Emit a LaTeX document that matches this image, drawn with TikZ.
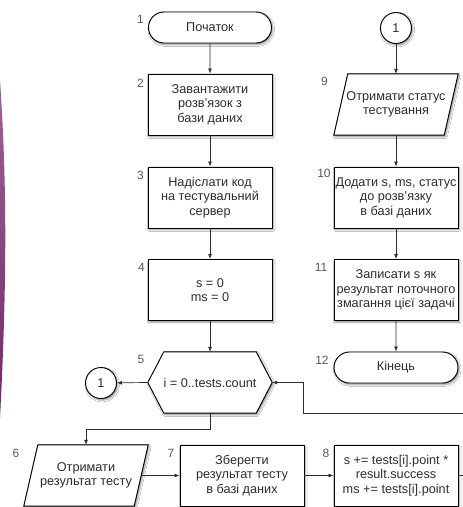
\documentclass[tikz,border=0pt]{standalone}
\usepackage{fontspec}
\setmainfont{Liberation Sans}
\usetikzlibrary{arrows.meta,shapes.misc,shadows.blur,calc,backgrounds}

\definecolor{inkc}{RGB}{45,45,45}
\definecolor{numc}{RGB}{90,90,90}
\definecolor{stripeA}{RGB}{158,100,150}
\definecolor{stripeB}{RGB}{118,48,110}
\definecolor{stripeC}{RGB}{112,40,104}

\tikzset{
  sh/.style={blur shadow={shadow xshift=1.2pt, shadow yshift=-1.6pt,
      shadow blur radius=1.8pt, shadow opacity=45}},
  txt/.style={align=center, text=inkc, inner sep=1pt,
      font=\fontsize{12.7}{14.5}\selectfont},
  proc/.style={txt, draw=black, line width=0.95pt, fill=white, sh,
      minimum width=124pt, minimum height=61pt},
  ghost/.style={txt, minimum width=124pt, minimum height=61pt},
  term/.style={txt, rounded rectangle, draw=black, line width=0.95pt,
      fill=white, sh, minimum width=125pt, minimum height=31pt},
  conn/.style={txt, circle, draw=black, line width=0.95pt, fill=white, sh,
      minimum size=31pt, inner sep=0pt},
  outline/.style={draw=black, line width=0.95pt, fill=white, sh},
  num/.style={text=numc, font=\fontsize{12}{13}\selectfont, inner sep=0pt},
  flow/.style={draw=inkc, line width=0.7pt,
      -{Latex[length=5pt,width=4pt]}},
}

\begin{document}
\begin{tikzpicture}[x=1pt, y=-1pt]
\clip (0,0) rectangle (463,507);
\useasboundingbox (0,0) rectangle (463,507);

% left column
\node[term] (n1) at (210,27.5) {Початок};
\node[proc] (n2) at (210,104.5) {Завантажити\\розв'язок з\\бази даних};
\node[proc] (n3) at (210,197.5) {Надіслати код\\на тестувальний\\сервер};
\node[proc] (n4) at (210,290) {s = 0\\ms = 0};
\node[ghost] (n5) at (210,382.5) {i = 0..tests.count};
\node[conn] (c1) at (101,383) {1};

% bottom row
\node[ghost] (n6) at (86,475.5) {Отримати\\результат тесту};
\node[proc] (n7) at (242,475.5) {Зберегти\\результат тесту\\в базі даних};
\node[proc] (n8) at (396,475.5) {s += tests[i].point *\\result.success\\ms += tests[i].point};

% right column
\node[conn] (c2) at (396,28) {1};
\node[ghost] (n9) at (396,104.5) {Отримати статус\\тестування};
\node[proc] (n10) at (396,197.5) {Додати s, ms, статус\\до розв'язку\\в базі даних};
\node[proc] (n11) at (396,290) {Записати s як\\результат поточного\\змагання цієї задачі};
\node[term, minimum width=126pt] (n12) at (396,367.5) {Кінець};

% page background, left-edge stripe, outlines of the loop and input blocks
\begin{scope}[on background layer]
  \fill[white] (0,0) rectangle (463,507);
  \shade[top color=stripeA, middle color=stripeB, bottom color=stripeC]
    (0,80) .. controls (6,170) and (8,265) .. (0,418) -- cycle;
  \path[outline] (n5.west) -- ($(n5.north west)+(16,0)$)
    -- ($(n5.north east)+(-16,0)$) -- (n5.east)
    -- ($(n5.south east)+(-16,0)$) -- ($(n5.south west)+(16,0)$) -- cycle;
  \path[outline] ($(n6.north west)+(14,0)$) -- (n6.north east)
    -- ($(n6.south east)+(-14,0)$) -- (n6.south west) -- cycle;
  \path[outline] ($(n9.north west)+(14,0)$) -- (n9.north east)
    -- ($(n9.south east)+(-14,0)$) -- (n9.south west) -- cycle;
\end{scope}

% block numbers
\node[num] (k1) at (140.5,19.5) {1};
\node[num] (k2) at (140.5,83) {2};
\node[num] (k3) at (140.5,175) {3};
\node[num] (k4) at (141.5,267) {4};
\node[num] (k5) at (141,359.5) {5};
\node[num] (k6) at (16,453) {6};
\node[num] (k7) at (171,453) {7};
\node[num] (k8) at (326,453) {8};
\node[num] (k9) at (324.5,81.5) {9};
\node[num] (k10) at (324,173) {10};
\node[num] (k11) at (321,267) {11};
\node[num] (k12) at (322,360) {12};

% connectors
\draw[flow] (n1) -- (n2);
\draw[flow] (n2) -- (n3);
\draw[flow] (n3) -- (n4);
\draw[flow] (n4) -- (n5);
\draw[flow] (n5.west) -- (c1);
\draw[flow] (n5.south) -- ++(0,16) -| (n6.north);
\draw[flow] ([xshift=-7pt]n6.east) -- (n7.west);
\draw[flow] (n7) -- (n8);
\coordinate (loopR) at (485,413);
\coordinate (loopL) at (303,413);
\draw[flow] (n8.east) -| (loopR) -- (loopL) |- (n5.east);

\draw[flow] (c2) -- (n9.north);
\draw[flow] (n9.south) -- (n10);
\draw[flow] (n10) -- (n11);
\draw[flow] (n11) -- (n12);
\end{tikzpicture}
\end{document}
